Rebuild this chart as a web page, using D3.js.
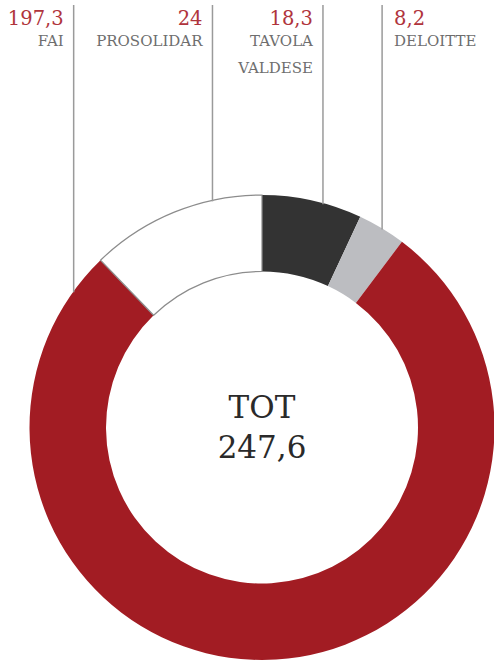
<!doctype html>
<html lang="it">
<head>
  <meta charset="utf-8">
  <style>
    html, body { margin: 0; padding: 0; background: #fff; }
    svg { display: block; }
  </style>
</head>
<body>
  <script src="https://d3js.org/d3.v7.min.js"></script>
  <div id="chart"></div>
  <script>
    // data (clockwise from 12 o'clock)
    var donors = ["TAVOLA VALDESE", "DELOITTE", "FAI", "PROSOLIDAR"];
    var nameLines = [["TAVOLA", "VALDESE"], ["DELOITTE"], ["FAI"], ["PROSOLIDAR"]];
    var amounts = [18.3, 8.2, 197.3, 24];
    var valueLabels = ["18,3", "8,2", "197,3", "24"];
    var totalLabel = "247,6";
    // the ring in the picture is not drawn to scale: segment sizes as read off it (degrees)
    var ringShares = [25, 12, 279, 44];

    // layout
    var width = 494, height = 662;
    var cx = 262, cy = 427.5;
    var outerR = 232.5, innerR = 156;
    var leaderDeg = [15.2, 31.1, 305.9, 347.7];   // where each leader touches the ring
    var labelSide = ["end", "start", "end", "end"];

    var colors = d3.scaleOrdinal()
        .domain(donors)
        .range(["#333333", "#bcbdc1", "#a21c23", "#ffffff"]);

    var svg = d3.select("#chart")
        .append("svg")
        .attr("width", width)
        .attr("height", height);

    var pie = d3.pie().sort(null).value(function(d) { return d; });
    var arcs = pie(ringShares);
    var arc = d3.arc().innerRadius(innerR).outerRadius(outerR);

    var ring = svg.append("g").attr("transform", "translate(" + cx + "," + cy + ")");

    ring.selectAll("path")
        .data(arcs)
        .enter()
        .append("path")
        .attr("d", arc)
        .style("fill", function(d, i) { return colors(donors[i]); })
        .style("stroke", function(d, i) { return i === 3 ? "#8c8c8c" : "none"; })
        .style("stroke-width", 1.2);

    // leader lines + labels
    var lineTop = 5;
    var leaders = svg.append("g");
    donors.forEach(function(name, i) {
      var a = leaderDeg[i] * Math.PI / 180;
      var x = cx + outerR * Math.sin(a);
      var y = cy - outerR * Math.cos(a);
      leaders.append("line")
          .attr("x1", x).attr("x2", x)
          .attr("y1", lineTop).attr("y2", y + 1)
          .style("stroke", "#9a9a9a")
          .style("stroke-width", 1.5);

      var tx = labelSide[i] === "end" ? x - 10 : x + 12;
      var t = leaders.append("text")
          .attr("text-anchor", labelSide[i])
          .style("font-family", "'DejaVu Serif', serif");
      t.append("tspan")
          .attr("x", tx).attr("y", 25)
          .style("font-size", "19.5px")
          .style("fill", "#b0343c")
          .text(valueLabels[i]);
      nameLines[i].forEach(function(line, j) {
        t.append("tspan")
            .attr("x", tx).attr("y", 46 + j * 27)
            .style("font-size", "15px")
            .style("fill", "#6e6e6e")
            .text(line);
      });
    });

    // centre
    var centre = svg.append("text")
        .attr("text-anchor", "middle")
        .style("font-family", "'DejaVu Serif', serif")
        .style("font-size", "31px")
        .style("fill", "#2a2a2a");
    centre.append("tspan").attr("x", cx).attr("y", 418).text("TOT");
    centre.append("tspan").attr("x", cx).attr("y", 458).text(totalLabel);
  </script>
</body>
</html>
